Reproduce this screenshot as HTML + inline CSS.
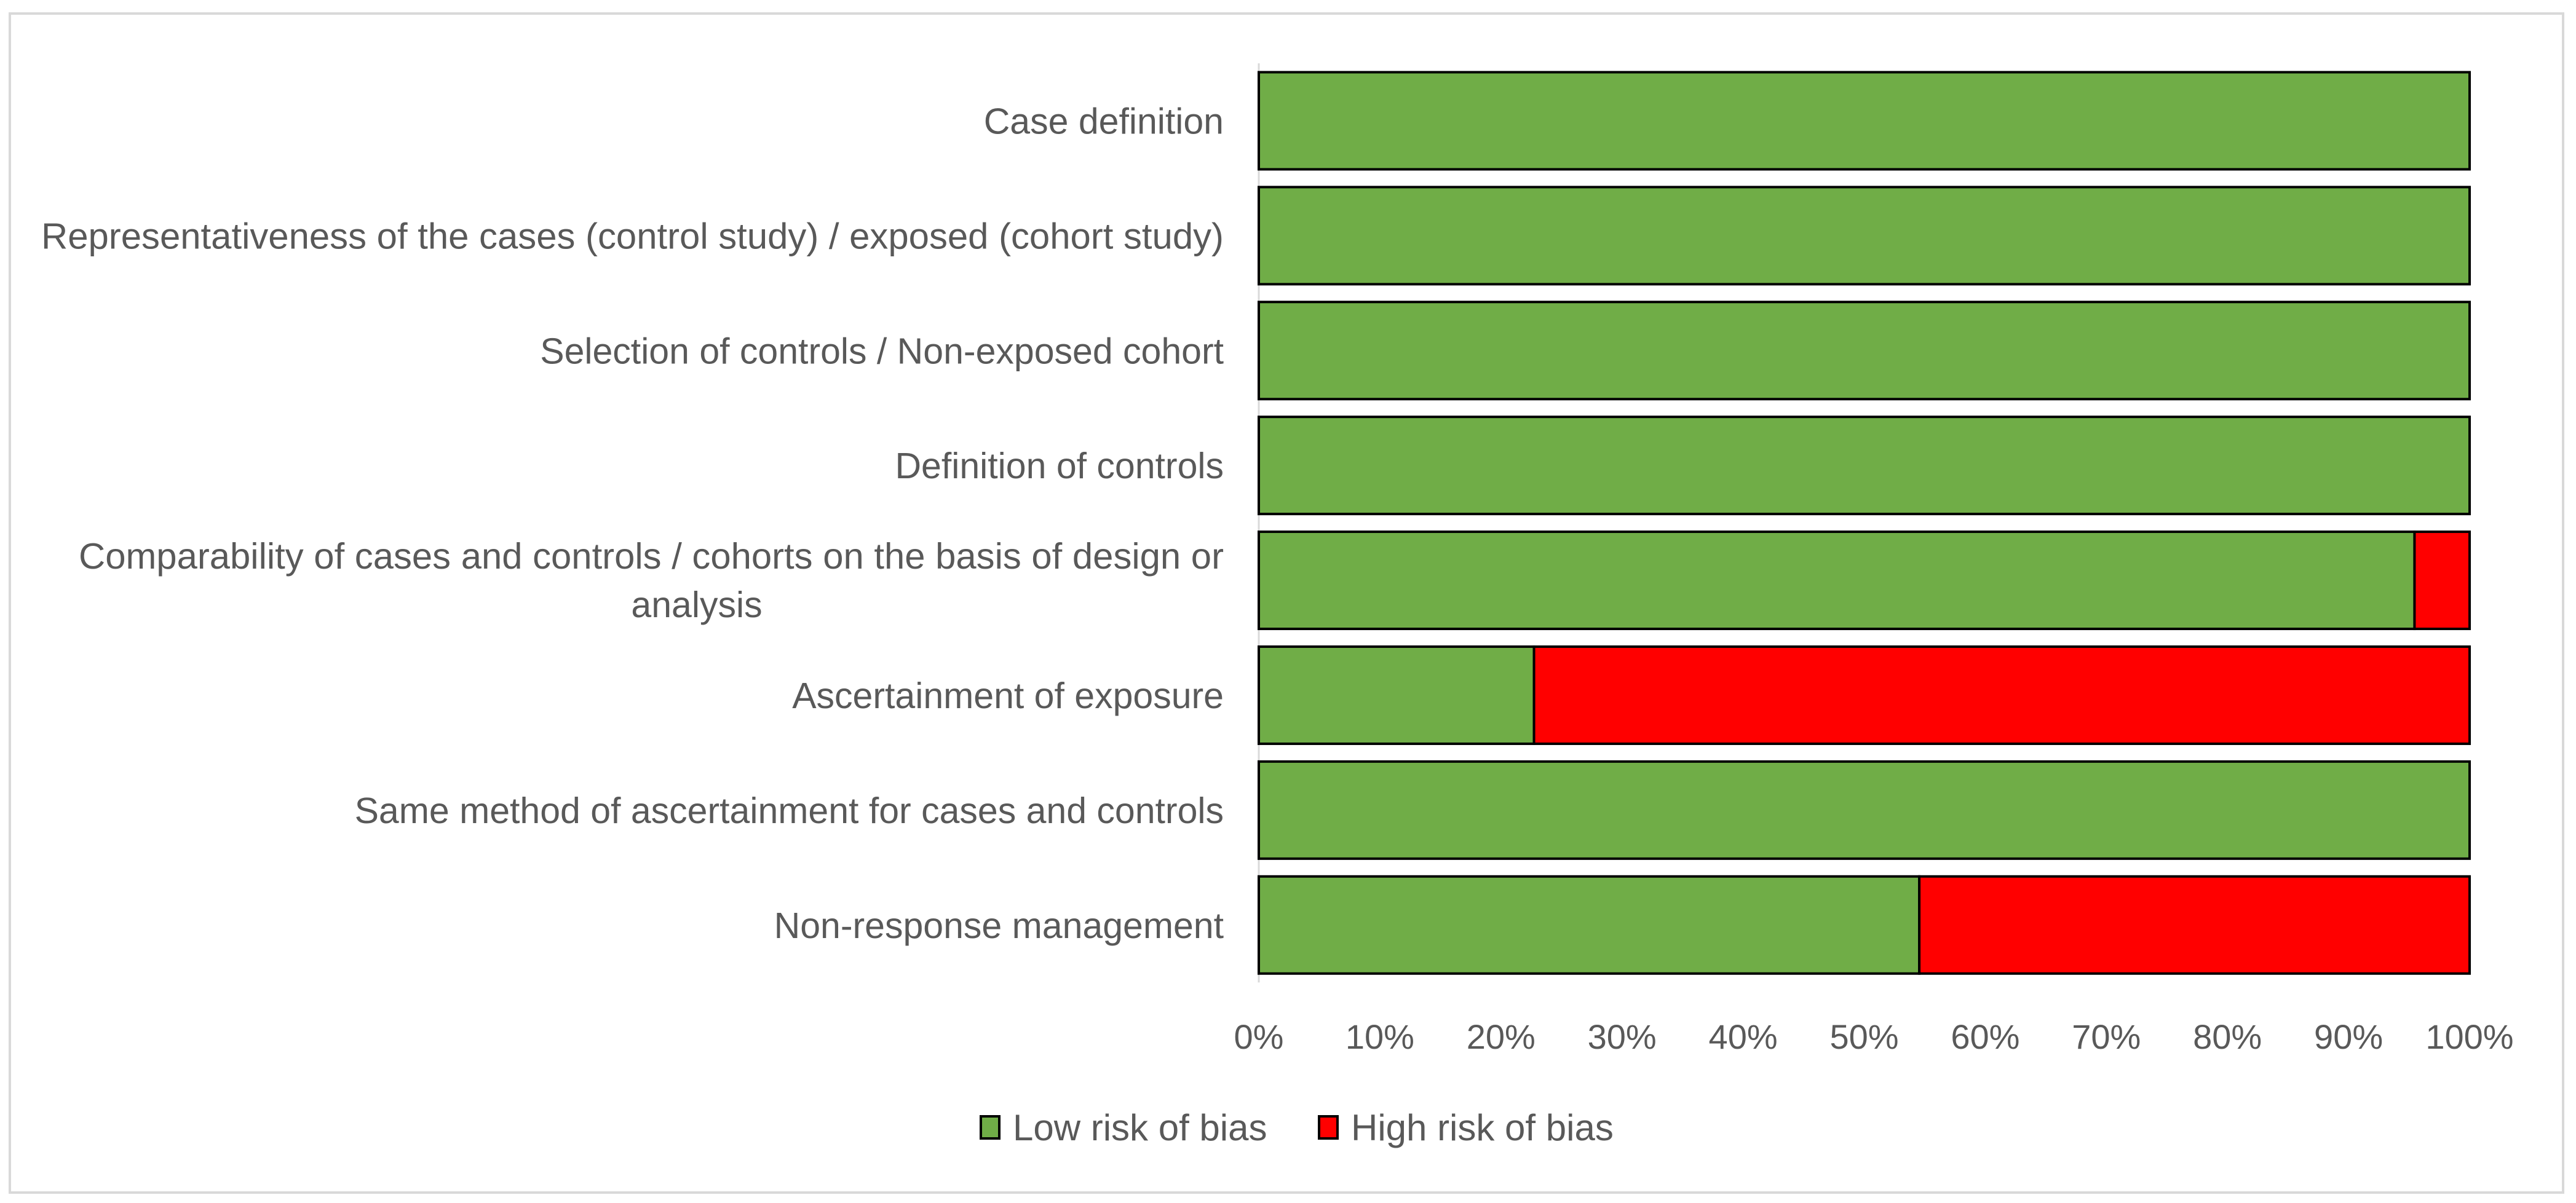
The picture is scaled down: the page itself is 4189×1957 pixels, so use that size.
<!DOCTYPE html>
<html><head><meta charset="utf-8">
<style>
html,body{margin:0;padding:0;background:#fff;}
svg{display:block;font-family:"Liberation Sans",sans-serif;}
</style></head>
<body>
<svg id="chart" width="4189" height="1957" viewBox="0 0 4189 1957" xmlns="http://www.w3.org/2000/svg">
<rect x="16" y="22" width="4152" height="1918" fill="#fff" stroke="#d9d9d9" stroke-width="4"/>
<g id="plot"></g>
</svg>
<script>
const categories = [
 "Case definition",
 "Representativeness of the cases (control study) / exposed (cohort study)",
 "Selection of controls / Non-exposed cohort",
 "Definition of controls",
 "Comparability of cases and controls / cohorts on the basis of design or|analysis",
 "Ascertainment of exposure",
 "Same method of ascertainment for cases and controls",
 "Non-response management"
];
const lowRisk = [100, 100, 100, 100, 95.45, 22.73, 100, 54.55];
const highRisk = [0, 0, 0, 0, 4.55, 77.27, 0, 45.45];
const xTicks = [0, 10, 20, 30, 40, 50, 60, 70, 80, 90, 100];
const seriesNames = ["Low risk of bias", "High risk of bias"];

const NS = "http://www.w3.org/2000/svg";
const g = document.getElementById("plot");
const X0 = 2047, X1 = 4016, TOP = 103, BAND = 186.9, BARH = 158;
const xs = v => X0 + (X1 - X0) * v / 100;
const yBand = i => TOP + i * BAND;
function mk(tag, attrs) { const e = document.createElementNS(NS, tag); for (const k in attrs) e.setAttribute(k, attrs[k]); g.appendChild(e); return e; }

const axis = mk("line", {x1: X0, y1: TOP, x2: X0, y2: TOP + BAND * 8, stroke: "#d9d9d9", "stroke-width": 3});



const colors = ["#70ad47", "#ff0000"];
categories.forEach((c, i) => {
  const yT = yBand(i) + (BAND - BARH) / 2;
  let start = 0;
  [lowRisk[i], highRisk[i]].forEach((v, s) => {
    if (v <= 0) return;
    const r = mk("rect", {x: xs(start), y: yT, width: xs(start + v) - xs(start), height: BARH, fill: colors[s], stroke: "#000", "stroke-width": 4});
    
    
    start += v;
  });
  const cy = yBand(i) + BAND / 2;
  const parts = c.split("|");
  if (parts.length === 1) {
    const t = mk("text", {x: 1990, y: cy + 21, "text-anchor": "end", "font-size": 59, fill: "#595959"});
    if (c.length > 60) { t.setAttribute("textLength", 1923); t.setAttribute("lengthAdjust", "spacingAndGlyphs"); }
    t.textContent = c;
    
    
  } else {
    const t1 = mk("text", {x: 1990, y: cy - 19, "text-anchor": "end", "font-size": 59, fill: "#595959", textLength: 1862, lengthAdjust: "spacingAndGlyphs"});
    t1.textContent = parts[0];
    
    
    const t2 = mk("text", {x: 1133, y: cy + 60, "text-anchor": "middle", "font-size": 59, fill: "#595959"});
    t2.textContent = parts[1];
    
    
  }
});

xTicks.forEach(v => {
  const t = mk("text", {x: xs(v), y: 1706, "text-anchor": "middle", "font-size": 56, fill: "#595959"});
  t.textContent = v + "%";
  
  
});

const legX = [1595, 2145];
seriesNames.forEach((n, s) => {
  const b = mk("rect", {x: legX[s], y: 1816, width: 30, height: 36, fill: colors[s], stroke: "#000", "stroke-width": 4});
  
  
  const t = mk("text", {x: legX[s] + 52, y: 1855, "font-size": 60, fill: "#595959"});
  t.textContent = n;
  
  
});
</script>
</body></html>
